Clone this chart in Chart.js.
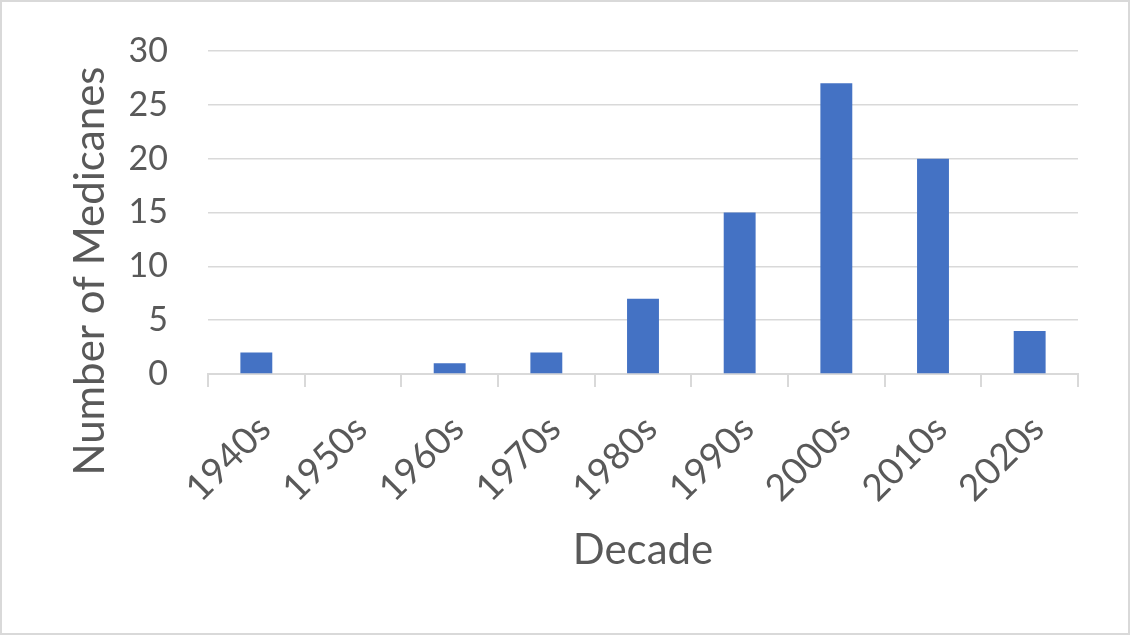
<!DOCTYPE html>
<html>
<head>
<meta charset="utf-8">
<script src="https://cdn.jsdelivr.net/npm/chart.js@4"></script>
<style>
  html, body { margin: 0; padding: 0; background: #fff; }
  #wrap { position: relative; width: 1130px; height: 635px; box-sizing: border-box; border: 2px solid #d9d9d9; }
  canvas { position: absolute; left: -2px; top: -2px; }
</style>
</head>
<body>
<div id="wrap"><canvas id="chart" width="1130" height="635"></canvas></div>
<script>
// --- Data ---
const decades = ['1940s', '1950s', '1960s', '1970s', '1980s', '1990s', '2000s', '2010s', '2020s'];
const medicaneCounts = [2, 0, 1, 2, 7, 15, 27, 20, 4];
const yTicks = [0, 5, 10, 15, 20, 25, 30];
const xTitle = 'Decade';
const yTitle = 'Number of Medicanes';

const FONT = 'Lato, "Open Sans", sans-serif';
const TEXT = '#595959';
const GRID = '#d9d9d9';

// axis titles drawn by hand so they sit where Excel put them
const axisTitles = {
  id: 'axisTitles',
  afterDraw(chart) {
    const { ctx, chartArea } = chart;
    ctx.save();
    ctx.fillStyle = TEXT;
    ctx.textAlign = 'center';
    ctx.textBaseline = 'middle';
    ctx.font = `42px ${FONT}`;
    ctx.fillText(xTitle, (chartArea.left + chartArea.right) / 2, 550);
    ctx.translate(90, 271);
    ctx.rotate(-Math.PI / 2);
    ctx.fillText(yTitle, 0, 0);
    ctx.restore();
  }
};

new Chart(document.getElementById('chart'), {
  type: 'bar',
  data: {
    labels: decades,
    datasets: [{
      data: medicaneCounts,
      backgroundColor: '#4472c4',
      barPercentage: 0.33,
      categoryPercentage: 1,
    }]
  },
  options: {
    responsive: false,
    animation: false,
    layout: { padding: { top: 51, right: 52, left: 0, bottom: 0 } },
    plugins: { legend: { display: false }, tooltip: { enabled: false } },
    scales: {
      x: {
        grid: { offset: true, drawOnChartArea: false, drawTicks: true, tickLength: 13, color: GRID, lineWidth: 2 },
        border: { color: GRID, width: 2 },
        ticks: { color: TEXT, font: { family: FONT, size: 37 }, minRotation: 45, maxRotation: 45, padding: 20, labelOffset: 8 },
        afterFit(scale) { scale.height = 261; scale.paddingLeft = 0; scale.paddingRight = 0; },
      },
      y: {
        min: 0, max: 30,
        afterBuildTicks(scale) { scale.ticks = yTicks.map(v => ({ value: v })); },
        grid: { drawTicks: false, color: GRID, lineWidth: 1.5 },
        border: { display: false },
        ticks: { color: TEXT, font: { family: FONT, size: 34 }, padding: 40 },
        afterFit(scale) { scale.width = 208; scale.paddingTop = 0; scale.paddingBottom = 0; },
      }
    }
  },
  plugins: [axisTitles]
});
</script>
</body>
</html>
